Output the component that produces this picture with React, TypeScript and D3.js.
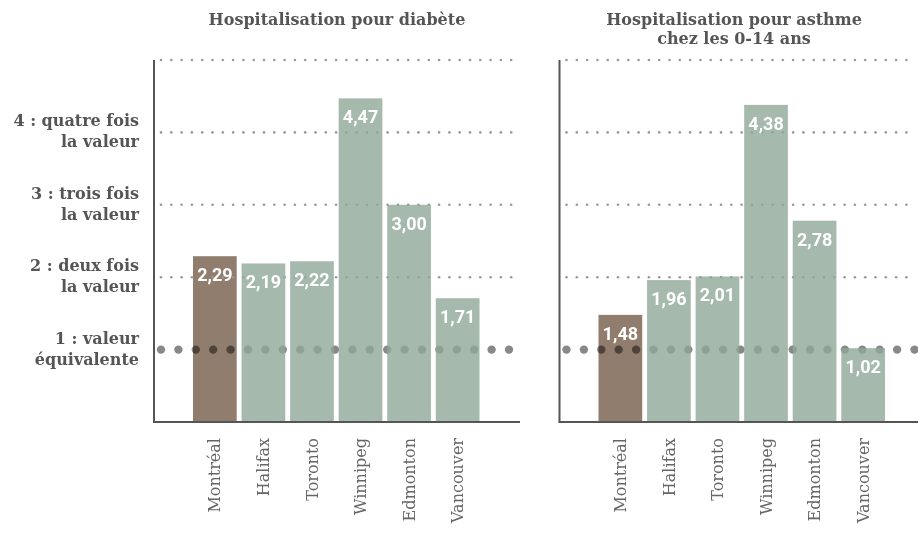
import React from "react";
import * as d3 from "d3";

const cities = ["Montréal", "Halifax", "Toronto", "Winnipeg", "Edmonton", "Vancouver"];
const diabetesValues = [2.29, 2.19, 2.22, 4.47, 3.0, 1.71];
const asthmaValues = [1.48, 1.96, 2.01, 4.38, 2.78, 1.02];
const gridValues = [2, 3, 4, 5];
const yLabels = [
  { v: 4, lines: ["4 : quatre fois", "la valeur"] },
  { v: 3, lines: ["3 : trois fois", "la valeur"] },
  { v: 2, lines: ["2 : deux fois", "la valeur"] },
  { v: 1, lines: ["1 : valeur", "équivalente"] },
];
const panelTitles = [["Hospitalisation pour diabète"], ["Hospitalisation pour asthme", "chez les 0-14 ans"]];

const W = 918;
const H = 542;
const SERIF = "'DejaVu Serif', serif";
const BROWN = "#907d6e";
const GREEN = "#8fa799";

const y = d3.scaleLinear().domain([0, 5]).range([422, 60]);

const fmt = (v: number) => v.toFixed(2).replace(".", ",");

function Panel({ x0, x1, values, title, titleX }: { x0: number; x1: number; values: number[]; title: string[]; titleX: number }) {
  const x = d3.scaleBand<string>().domain(cities).range([x0 + 39, x0 + 325.5]).paddingInner(0.1).paddingOuter(0);
  const bigDots = d3.range(x0 + 7, x1 - 3, 17.4);
  const smallDots = d3.range(x0 + 7, x1 - 3, 10.3);
  return (
    <g>
      {title.map((t, i) => (
        <text key={i} x={titleX} y={25 + i * 19} textAnchor="middle" fontFamily={SERIF} fontWeight="bold" fontSize={16} fill="#555">
          {t}
        </text>
      ))}
      {values.map((v, i) =>
        i === 0 ? <rect key={i} x={x(cities[i])} y={y(v)} width={x.bandwidth()} height={y(0) - y(v)} fill={BROWN} /> : null
      )}
      <g style={{ mixBlendMode: "multiply" }}>
        {bigDots.map((cx, i) => (
          <circle key={i} cx={cx} cy={y(1)} r={4.2} fill="#888" />
        ))}
      </g>
      {gridValues.map((g) => (
        <g key={g}>
          {smallDots.map((cx, i) => (
            <circle key={i} cx={cx} cy={y(g)} r={1.3} fill="#999" />
          ))}
        </g>
      ))}
      {values.map((v, i) =>
        i > 0 ? (
          <rect key={i} x={x(cities[i])} y={y(v)} width={x.bandwidth()} height={y(0) - y(v)} fill={GREEN} opacity={0.8} />
        ) : null
      )}
      {values.map((v, i) => (
        <text
          key={i}
          x={(x(cities[i]) as number) + x.bandwidth() / 2}
          y={y(v) + 25}
          textAnchor="middle"
          fontFamily="Roboto, sans-serif"
          fontWeight="bold"
          fontSize={18}
          fill="#fff"
        >
          {fmt(v)}
        </text>
      ))}
      <line x1={x0} x2={x0} y1={60} y2={y(0)} stroke="#555" strokeWidth={2} />
      <line x1={x0 - 1} x2={x1} y1={y(0)} y2={y(0)} stroke="#555" strokeWidth={2} />
      {cities.map((c) => {
        const cx = (x(c) as number) + x.bandwidth() / 2;
        return (
          <text
            key={c}
            transform={`translate(${cx},438) rotate(-90)`}
            textAnchor="end"
            dy="0.35em"
            fontFamily={SERIF}
            fontSize={16}
            fill="#666"
          >
            {c}
          </text>
        );
      })}
    </g>
  );
}

export default function App() {
  return (
    <svg width={W} height={H} style={{ position: "absolute", left: 0, top: 0, background: "#fff" }}>
      {yLabels.map((l) => (
        <text key={l.v} x={139} fontFamily={SERIF} fontWeight="bold" fontSize={16} fill="#555" textAnchor="end">
          <tspan x={139} y={y(l.v) - 6}>{l.lines[0]}</tspan>
          <tspan x={139} y={y(l.v) + 15}>{l.lines[1]}</tspan>
        </text>
      ))}
      <Panel x0={154} x1={520} values={diabetesValues} title={panelTitles[0]} titleX={337} />
      <Panel x0={559.5} x1={918} values={asthmaValues} title={panelTitles[1]} titleX={734} />
    </svg>
  );
}
